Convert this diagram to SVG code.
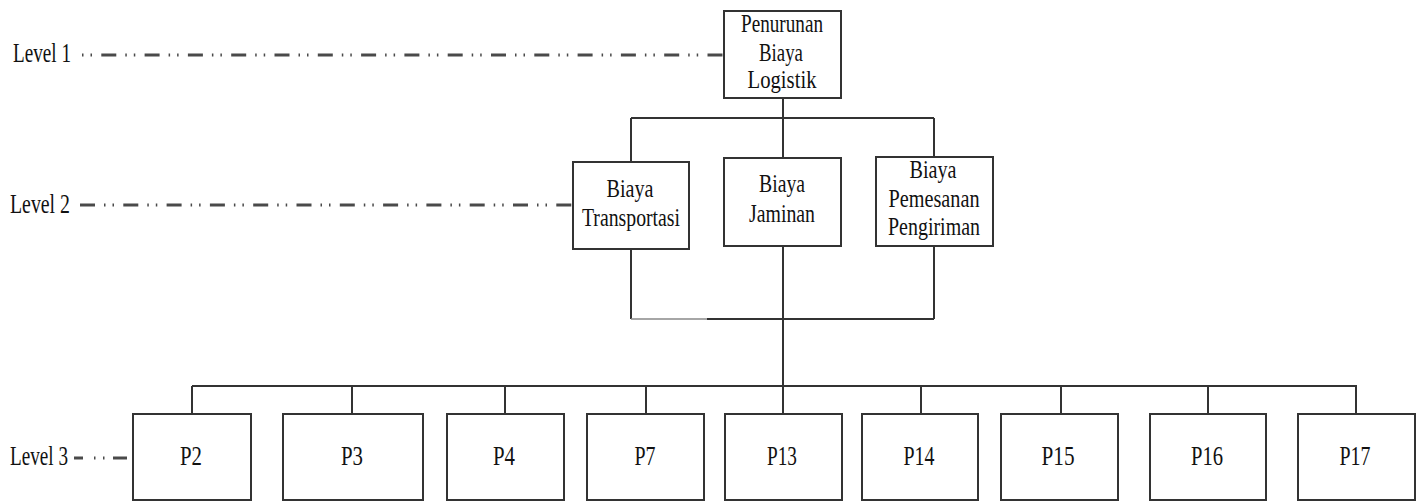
<svg xmlns="http://www.w3.org/2000/svg" width="1424" height="502" viewBox="0 0 1424 502">
<style>
  .box { fill: #ffffff; stroke: #333333; stroke-width: 2; }
  .conn { fill: none; stroke: #333333; stroke-width: 2; }
  .conn-light { fill: none; stroke: #888888; stroke-width: 1.5; }
  .lvl { fill: none; stroke: #4a4a4a; stroke-width: 3; }
  .t { font-family: "Liberation Serif", "Times New Roman", serif; font-size: 25px; fill: #111111; text-anchor: middle; }
  .lab { font-family: "Liberation Serif", "Times New Roman", serif; font-size: 28px; fill: #111111; }
  .pt { font-family: "Liberation Serif", "Times New Roman", serif; font-size: 27px; fill: #111111; text-anchor: middle; }
</style>
<rect width="1424" height="502" fill="#ffffff"/>

<g id="level-labels">
  <text class="lab" x="13" y="62" textLength="58" lengthAdjust="spacingAndGlyphs">Level 1</text>
  <line class="lvl" x1="82" y1="55" x2="724" y2="55" stroke-dasharray="15 9 1.5 7 1.5 9.3" stroke-dashoffset="24"/>
  <text class="lab" x="10" y="213" textLength="60" lengthAdjust="spacingAndGlyphs">Level 2</text>
  <line class="lvl" x1="80" y1="205" x2="573" y2="205" stroke-dasharray="15 9 1.5 7 1.5 9.3"/>
  <text class="lab" x="10" y="465" textLength="58" lengthAdjust="spacingAndGlyphs">Level 3</text>
  <line class="lvl" x1="74" y1="458" x2="127" y2="458" stroke-dasharray="9 11 1.5 7.5 1.5 8.5 14 10"/>
</g>

<g id="connectors">
  <path class="conn" d="M783 98 V118 M631 118 H934 M631 118 V162 M783 118 V158 M934 118 V157"/>
  <path class="conn" d="M631 249 V319 M707 319 H934 M934 246 V319 M783 246 V386"/>
  <path class="conn-light" d="M631 319 H707"/>
  <path class="conn" d="M192 386 H1357 M192 386 V414 M352 386 V414 M505 386 V414 M646 386 V414 M783 386 V414 M921 386 V414 M1061 386 V414 M1208 386 V414 M1356 386 V414"/>
</g>

<g id="n-root">
  <rect class="box" x="724" y="11" width="117" height="87"/>
  <text class="t" x="782" y="32" textLength="82" lengthAdjust="spacingAndGlyphs">Penurunan</text>
  <text class="t" x="781" y="61" textLength="44" lengthAdjust="spacingAndGlyphs">Biaya</text>
  <text class="t" x="782" y="88" textLength="69" lengthAdjust="spacingAndGlyphs">Logistik</text>
</g>

<g id="n-transportasi">
  <rect class="box" x="573" y="162" width="116" height="87"/>
  <text class="t" x="630" y="197" textLength="47" lengthAdjust="spacingAndGlyphs">Biaya</text>
  <text class="t" x="631" y="226" textLength="98" lengthAdjust="spacingAndGlyphs">Transportasi</text>
</g>

<g id="n-jaminan">
  <rect class="box" x="724" y="158" width="117" height="88"/>
  <text class="t" x="782" y="192" textLength="46" lengthAdjust="spacingAndGlyphs">Biaya</text>
  <text class="t" x="782" y="222" textLength="66" lengthAdjust="spacingAndGlyphs">Jaminan</text>
</g>

<g id="n-pemesanan">
  <rect class="box" x="876" y="157" width="117" height="89"/>
  <text class="t" x="933" y="178" textLength="47" lengthAdjust="spacingAndGlyphs">Biaya</text>
  <text class="t" x="934" y="207" textLength="91" lengthAdjust="spacingAndGlyphs">Pemesanan</text>
  <text class="t" x="934" y="235" textLength="92" lengthAdjust="spacingAndGlyphs">Pengiriman</text>
</g>

<g id="n-p2"><rect class="box" x="133" y="414" width="118" height="86"/><text class="pt" x="191" y="465" textLength="22" lengthAdjust="spacingAndGlyphs">P2</text></g>
<g id="n-p3"><rect class="box" x="283" y="414" width="140" height="86"/><text class="pt" x="352" y="465" textLength="22" lengthAdjust="spacingAndGlyphs">P3</text></g>
<g id="n-p4"><rect class="box" x="447" y="414" width="117" height="86"/><text class="pt" x="504" y="465" textLength="22" lengthAdjust="spacingAndGlyphs">P4</text></g>
<g id="n-p7"><rect class="box" x="587" y="414" width="117" height="86"/><text class="pt" x="645" y="465" textLength="21" lengthAdjust="spacingAndGlyphs">P7</text></g>
<g id="n-p13"><rect class="box" x="725" y="414" width="117" height="86"/><text class="pt" x="782" y="465" textLength="30" lengthAdjust="spacingAndGlyphs">P13</text></g>
<g id="n-p14"><rect class="box" x="862" y="414" width="116" height="86"/><text class="pt" x="919" y="465" textLength="31" lengthAdjust="spacingAndGlyphs">P14</text></g>
<g id="n-p15"><rect class="box" x="1001" y="414" width="117" height="86"/><text class="pt" x="1058" y="465" textLength="33" lengthAdjust="spacingAndGlyphs">P15</text></g>
<g id="n-p16"><rect class="box" x="1150" y="414" width="116" height="86"/><text class="pt" x="1207" y="465" textLength="32" lengthAdjust="spacingAndGlyphs">P16</text></g>
<g id="n-p17"><rect class="box" x="1298" y="414" width="117" height="86"/><text class="pt" x="1355" y="465" textLength="31" lengthAdjust="spacingAndGlyphs">P17</text></g>
</svg>
